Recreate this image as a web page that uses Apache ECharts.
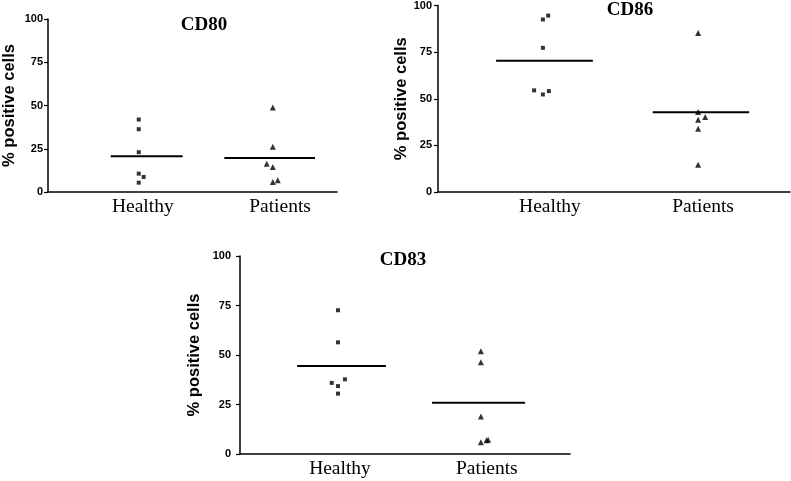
<!DOCTYPE html>
<html><head><meta charset="utf-8">
<script src="https://cdn.jsdelivr.net/npm/echarts@6/dist/echarts.min.js"></script>
<style>html,body{margin:0;padding:0;background:#fff}#c{width:791px;height:481px}</style>
</head><body><div id="c"></div>
<script>
// ---- data ----
const categories = ['Healthy', 'Patients'];
const yTicks = [0, 25, 50, 75, 100];
const panelTitles = ['CD80', 'CD86', 'CD83'];
const yAxisTitle = '% positive cells';

const cd80Healthy  = [41.9, 36.3, 23.0, 10.6, 8.7, 5.4];
const cd80Patients = [48.8, 26.1, 16.4, 14.5, 6.8, 5.8];
const cd80Means    = [20.7, 19.7];

const cd86Healthy  = [94.6, 92.5, 77.3, 54.5, 52.3, 54.1];
const cd86Patients = [85.2, 42.9, 40.2, 38.8, 33.9, 14.6];
const cd86Means    = [70.4, 42.7];

const cd83Healthy  = [72.6, 56.4, 35.9, 34.3, 37.7, 30.5];
const cd83Patients = [51.9, 46.3, 19.0, 7.2, 5.9, 6.9];
const cd83Means    = [44.4, 25.9];

// ---- layout (positions / styles only) ----
const layout = [
  { grid:{left:47, top:19, width:290, height:173}, catX:[32.8, 80.3],
    hx:[31.4,31.4,31.4,31.4,33.1,31.4], px:[77.8,77.8,75.7,77.8,79.5,77.8],
    lineX:[[21.7,46.6],[61,92.4]], nameGap:30, labelMargin:5,
    title:{left:199, top:11} },
  { grid:{left:438, top:5, width:352, height:187}, catX:[31.8, 75.3],
    hx:[31.3,29.8,29.8,27.3,29.8,31.5], px:[73.9,73.9,75.9,73.9,73.9,73.9],
    lineX:[[16.5,44],[61,88.4]], nameGap:28, labelMargin:6,
    title:{left:625, top:-4} },
  { grid:{left:240, top:256, width:330, height:198}, catX:[30.3, 74.8],
    hx:[29.7,29.7,27.8,29.7,31.8,29.7], px:[73.0,73.0,73.0,75.2,73.0,74.7],
    lineX:[[17.3,44.2],[58.2,86.4]], nameGap:37, labelMargin:9,
    title:{left:398, top:246} }
];

const panels = [
  [cd80Healthy, cd80Patients, cd80Means],
  [cd86Healthy, cd86Patients, cd86Means],
  [cd83Healthy, cd83Patients, cd83Means]
];

const grids = [], xAxes = [], yAxes = [], series = [], titles = [];
panels.forEach((p, i) => {
  const L = layout[i];
  grids.push(Object.assign({containLabel:false}, L.grid));
  xAxes.push({
    type:'value', gridIndex:i, min:0, max:100,
    axisLine:{show:true, onZero:false, lineStyle:{color:'#000', width:1.5}},
    axisTick:{show:false}, splitLine:{show:false},
    axisLabel:{
      customValues:L.catX, margin:5, color:'#000',
      fontFamily:'"Liberation Serif","Times New Roman",serif', fontSize:19.5,
      formatter:(v) => { const k = L.catX.findIndex(c => Math.abs(c - v) < 0.01); return k >= 0 ? categories[k] : ''; }
    }
  });
  yAxes.push({
    type:'value', gridIndex:i, min:yTicks[0], max:yTicks[yTicks.length-1], interval:25,
    name:yAxisTitle, nameLocation:'middle', nameGap:L.nameGap,
    nameTextStyle:{fontFamily:'"Liberation Sans",Arial,sans-serif', fontWeight:'bold', fontSize:16.5, color:'#000'},
    axisLine:{show:true, lineStyle:{color:'#000', width:1.5}},
    axisTick:{show:true, length:4, lineStyle:{color:'#000', width:1.2}},
    splitLine:{show:false},
    axisLabel:{margin:L.labelMargin, color:'#000', fontFamily:'"Liberation Sans",Arial,sans-serif', fontSize:11, fontWeight:'bold'}
  });
  titles.push({
    text:panelTitles[i], left:L.title.left, top:L.title.top, textAlign:'center',
    textStyle:{fontFamily:'"Liberation Serif","Times New Roman",serif', fontWeight:'bold', fontSize:19, color:'#000'}
  });
  series.push({
    type:'scatter', xAxisIndex:i, yAxisIndex:i, symbol:'rect', symbolSize:4,
    itemStyle:{color:'#000'}, data:p[0].map((v, k) => [L.hx[k], v]), silent:true
  });
  series.push({
    type:'scatter', xAxisIndex:i, yAxisIndex:i, symbol:'triangle', symbolSize:6,
    itemStyle:{color:'#000'}, data:p[1].map((v, k) => [L.px[k], v]), silent:true
  });
  p[2].forEach((m, k) => {
    series.push({
      type:'line', xAxisIndex:i, yAxisIndex:i, symbol:'none', silent:true,
      lineStyle:{color:'#000', width:2}, animation:false,
      data:[[L.lineX[k][0], m], [L.lineX[k][1], m]]
    });
  });
});

const chart = echarts.init(document.getElementById('c'), null, {renderer:'canvas'});
chart.setOption({
  animation:false, backgroundColor:'#fff',
  title:titles, grid:grids, xAxis:xAxes, yAxis:yAxes, series:series
});
</script>
</body></html>
